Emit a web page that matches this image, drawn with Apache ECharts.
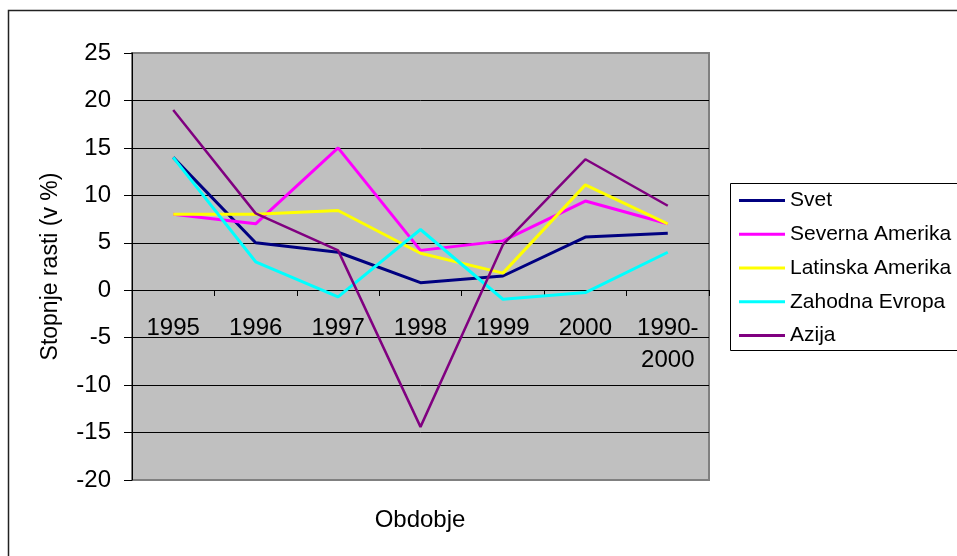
<!DOCTYPE html>
<html>
<head>
<meta charset="utf-8">
<script src="https://cdn.jsdelivr.net/npm/echarts@6/dist/echarts.min.js"></script>
<style>
  html, body { margin: 0; padding: 0; background: #fff; }
  #chart { width: 957px; height: 556px; }
</style>
</head>
<body>
<div id="chart"></div>
<script>
// Data
const categories = ["1995", "1996", "1997", "1998", "1999", "2000", "1990-\n2000"];
const svet = [14, 5, 4, 0.8, 1.5, 5.6, 6];
const severnaAmerika = [8, 7, 15, 4.2, 5.2, 9.4, 7];
const latinskaAmerika = [8, 8, 8.4, 3.9, 1.8, 11.1, 7];
const zahodnaEvropa = [14, 3, -0.7, 6.4, -0.95, -0.25, 4];
const azija = [19, 8.1, 4.2, -14.4, 4.8, 13.8, 8.9];

const yTicks = { min: -20, max: 25, step: 5 };

const FONT = "Liberation Sans, Arial, sans-serif";

const chart = echarts.init(document.getElementById("chart"), null, { renderer: "canvas" });

const makeSeries = (name, data, color, width) => ({
  name,
  type: "line",
  data,
  symbol: "none",
  lineStyle: { color, width },
  itemStyle: { color },
  emphasis: { disabled: true },
  animation: false,
});

// plot frame is gray at top/bottom, inner grid lines black
const splitColors = [];
for (let v = yTicks.min; v <= yTicks.max; v += yTicks.step) {
  splitColors.push(v === yTicks.min || v === yTicks.max ? "#808080" : "#000");
}

const option = {
  backgroundColor: "#fff",
  animation: false,
  grid: {
    left: 132,
    right: 248,
    top: 53,
    bottom: 76,
    show: true,
    backgroundColor: "#C0C0C0",
    borderColor: "#808080",
    borderWidth: 2,
  },
  xAxis: {
    type: "category",
    data: categories,
    boundaryGap: true,
    // move the category axis up to the zero line
    offset: -190,
    axisLine: { onZero: false, lineStyle: { color: "#000", width: 1 } },
    axisTick: { show: true, length: 6, lineStyle: { color: "#000" } },
    axisLabel: {
      color: "#000",
      fontFamily: FONT,
      fontSize: 24,
      lineHeight: 32,
      margin: 22,
      interval: 0,
    },
    splitLine: { show: false },
  },
  yAxis: {
    type: "value",
    min: yTicks.min,
    max: yTicks.max,
    interval: yTicks.step,
    name: "Stopnje rasti (v %)",
    nameLocation: "middle",
    nameGap: 70,
    nameTextStyle: { color: "#000", fontFamily: FONT, fontSize: 23 },
    axisLine: { show: true, lineStyle: { color: "#000", width: 1 } },
    axisTick: { show: true, length: 8, lineStyle: { color: "#000" } },
    axisLabel: { color: "#000", fontFamily: FONT, fontSize: 24, margin: 21 },
    splitLine: { show: true, lineStyle: { color: splitColors, width: 1 } },
  },
  legend: {
    orient: "vertical",
    left: 739,
    top: 190,
    padding: 0,
    itemWidth: 46,
    itemHeight: 3,
    itemGap: 12.75,
    icon: "rect",
    selectedMode: false,
    textStyle: { color: "#000", fontFamily: FONT, fontSize: 21 },
    data: ["Svet", "Severna Amerika", "Latinska Amerika", "Zahodna Evropa", "Azija"],
  },
  graphic: [
    {
      type: "rect",
      silent: true,
      z: -10,
      shape: { x: 8.5, y: 10.5, width: 1000, height: 600 },
      style: { fill: "none", stroke: "#222", lineWidth: 1.5 },
    },
    {
      type: "rect",
      silent: true,
      shape: { x: 730.5, y: 183.5, width: 300, height: 167 },
      style: { fill: "#fff", stroke: "#000", lineWidth: 1 },
      z: 0,
    },
    {
      type: "text",
      silent: true,
      x: 420,
      y: 520,
      style: {
        text: "Obdobje",
        fill: "#000",
        font: "24px " + FONT,
        align: "center",
        verticalAlign: "middle",
      },
    },
  ],
  series: [
    makeSeries("Svet", svet, "#000080", 3),
    makeSeries("Severna Amerika", severnaAmerika, "#FF00FF", 3),
    makeSeries("Latinska Amerika", latinskaAmerika, "#FFFF00", 3),
    makeSeries("Zahodna Evropa", zahodnaEvropa, "#00FFFF", 3),
    makeSeries("Azija", azija, "#800080", 2.5),
  ],
};

chart.setOption(option);
</script>
</body>
</html>
